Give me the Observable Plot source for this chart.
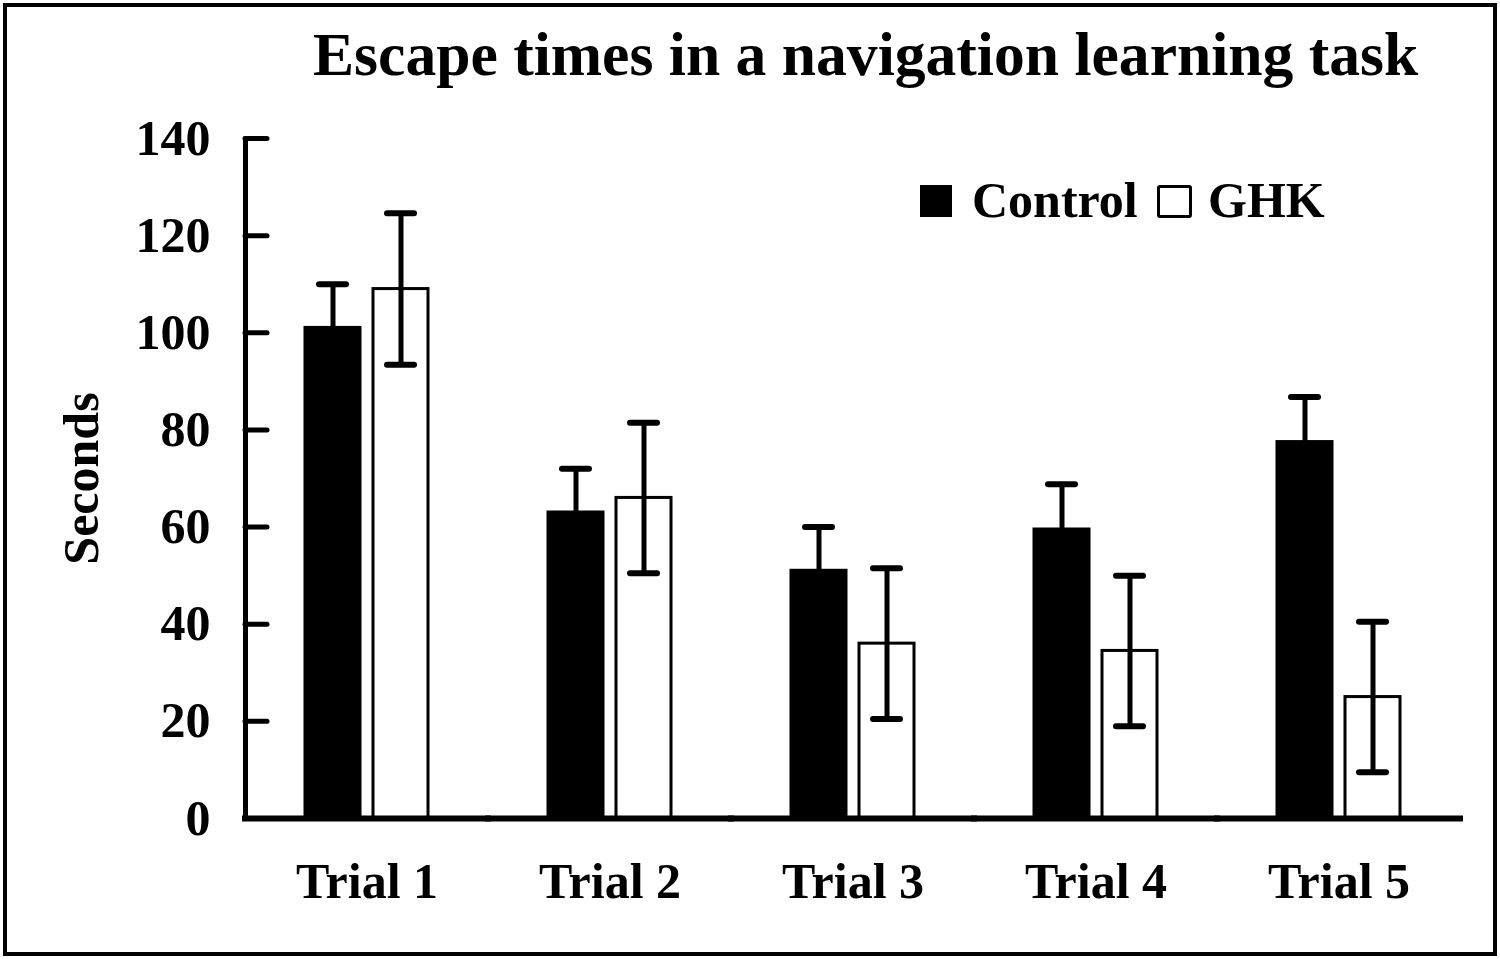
<!DOCTYPE html>
<html><head><meta charset="utf-8">
<script src="https://cdn.jsdelivr.net/npm/d3@7"></script>
<script src="https://cdn.jsdelivr.net/npm/@observablehq/plot@0.6"></script>
<style>
body{margin:0;background:#fff;}
#wrap{position:relative;width:1500px;height:959px;overflow:hidden;background:#fff;font-family:"Liberation Serif","Times New Roman",serif;font-weight:bold;color:#000;}
#border{position:absolute;left:3px;top:3px;width:1494px;height:953px;box-sizing:border-box;border:4px solid #000;pointer-events:none;}
#title{position:absolute;left:313px;top:24px;font-size:61.6px;line-height:61px;white-space:nowrap;}
.lg-text{position:absolute;font-size:50px;line-height:50px;white-space:nowrap;}
.sw{position:absolute;box-sizing:border-box;}
#chart{position:absolute;left:0;top:0;}
</style>
</head><body>
<div id="wrap">
  <div id="chart"></div>
  <div id="title">Escape times in a navigation learning task</div>
  <div class="sw" style="left:920px;top:185px;width:32px;height:32px;background:#000;"></div>
  <div class="lg-text" id="lg1" style="left:972px;top:175px;">Control</div>
  <div class="sw" style="left:1157px;top:185px;width:35px;height:33px;border:3px solid #000;border-radius:3px;background:#fff;"></div>
  <div class="lg-text" id="lg2" style="left:1208px;top:175px;">GHK</div>
  <div id="border"></div>
</div>
<script>
const trials = ["Trial 1", "Trial 2", "Trial 3", "Trial 4", "Trial 5"];
const groups = ["Control", "GHK"];
const controlMean = [101, 63, 51, 59.5, 77.5];
const controlErr = [9, 9, 9, 9.3, 9.3];
const ghkMean = [109, 66, 36, 34.5, 25];
const ghkErr = [15.6, 15.5, 15.5, 15.5, 15.5];
const yTicks = [0, 20, 40, 60, 80, 100, 120, 140];
const groupColors = ["#000000", "#ffffff"];

const data = trials.flatMap((t, i) => [
  {trial: t, group: groups[0], mean: controlMean[i], err: controlErr[i]},
  {trial: t, group: groups[1], mean: ghkMean[i], err: ghkErr[i]}
]);

const chart = Plot.plot({
  width: 1500,
  height: 959,
  marginLeft: 244,
  marginRight: 40,
  marginTop: 138,
  marginBottom: 141,
  style: {background: "transparent", fontFamily: "'Liberation Serif', 'Times New Roman', serif", fontWeight: "bold", color: "#000"},
  fx: {domain: trials, padding: 0, label: null},
  x: {domain: groups, paddingInner: 0.19, paddingOuter: 0.88, axis: null},
  y: {domain: [0, 140]},
  color: {domain: groups, range: groupColors},
  marks: [
    Plot.barY(data, {fx: "trial", x: "group", y: "mean", fill: "group", stroke: "#000", strokeWidth: 3}),
    Plot.ruleX(data, {fx: "trial", x: "group", y1: d => d.mean - d.err, y2: d => d.mean + d.err, stroke: "#000", strokeWidth: 5}),
    Plot.tickY(data, {fx: "trial", x: "group", y: d => d.mean + d.err, insetLeft: 14, insetRight: 14, stroke: "#000", strokeWidth: 6, strokeLinecap: "round"}),
    Plot.tickY(data, {fx: "trial", x: "group", y: d => d.mean - d.err, insetLeft: 14, insetRight: 14, stroke: "#000", strokeWidth: 6, strokeLinecap: "round"}),
    Plot.frame({anchor: "left", facetAnchor: "left", stroke: "#000", strokeWidth: 5, strokeLinecap: "round"}),
    Plot.ruleY([0], {stroke: "#000", strokeWidth: 6, strokeLinecap: "square"}),
    Plot.axisY({ticks: yTicks, tickFormat: d => String(d), tickSize: -22, tickPadding: 57, strokeWidth: 5, strokeLinecap: "round", fontSize: 50, label: "Seconds", labelAnchor: "center", labelOffset: 183, labelArrow: "none"}),
    Plot.axisFx({anchor: "bottom", tickSize: 0, tickPadding: 44, fontSize: 50, label: null})
  ]
});
document.getElementById("chart").appendChild(chart);
</script>
</body></html>
